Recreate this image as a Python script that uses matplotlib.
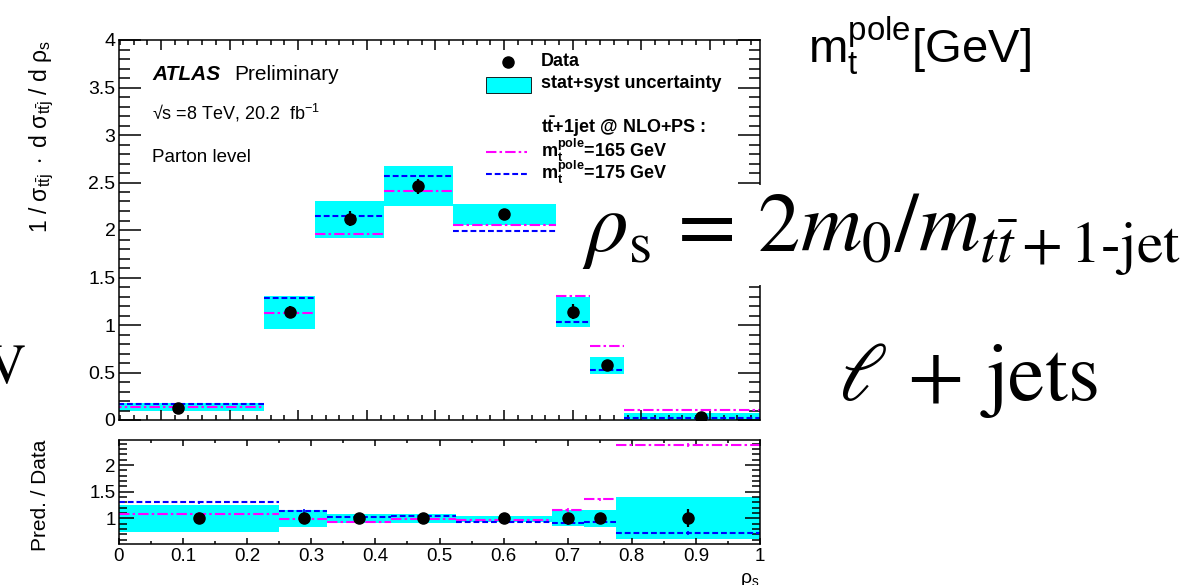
import matplotlib
matplotlib.use("Agg")
import matplotlib.pyplot as plt
import numpy as np
from matplotlib.patches import Rectangle
from matplotlib.ticker import MultipleLocator, FormatStrFormatter

plt.rcParams["font.family"] = ["Liberation Sans", "DejaVu Sans"]
plt.rcParams["mathtext.fontset"] = "custom"
plt.rcParams["mathtext.rm"] = "Liberation Sans"
plt.rcParams["mathtext.it"] = "Liberation Sans:italic"
plt.rcParams["mathtext.bf"] = "Liberation Sans:bold"

CYAN = "#00FFFF"
MAGENTA = "#FF00FF"
BLUE = "#0000FF"

# binning in rho_s
bin_edges = [0.0, 0.25, 0.325, 0.425, 0.525, 0.675, 0.725, 0.775, 1.0]
data_x = [0.125, 0.288, 0.375, 0.475, 0.600, 0.700, 0.750, 0.887]

# normalised cross section
data_y = [0.13, 1.14, 2.12, 2.46, 2.165, 1.14, 0.58, 0.035]
data_err = [0.02, 0.06, 0.08, 0.08, 0.06, 0.08, 0.03, 0.01]
unc_lo = [0.09, 0.955, 1.92, 2.25, 2.05, 0.975, 0.48, 0.0]
unc_hi = [0.18, 1.31, 2.31, 2.67, 2.27, 1.30, 0.667, 0.07]
pred_165 = [0.14, 1.13, 1.96, 2.41, 2.05, 1.31, 0.78, 0.105]
pred_175 = [0.17, 1.28, 2.15, 2.57, 1.99, 1.035, 0.526, 0.025]

# pred / data
ratio_data = [1, 1, 1, 1, 1, 1, 1, 1]
ratio_data_err = [0.01, 0.02, 0.02, 0.02, 0.02, 0.03, 0.03, 0.17]
ratio_unc_lo = [0.74, 0.83, 0.905, 0.92, 0.925, 0.855, 0.83, 0.61]
ratio_unc_hi = [1.25, 1.156, 1.09, 1.08, 1.05, 1.156, 1.156, 1.40]
ratio_165 = [1.09, 0.99, 0.935, 0.98, 0.97, 1.156, 1.36, 2.37]
ratio_175 = [1.30, 1.14, 1.03, 1.05, 0.925, 0.905, 0.925, 0.73]
ratio_pred_err = [0.03, 0.03, 0.02, 0.02, 0.02, 0.03, 0.03, 0.04]

W, H = 1192, 585
DASHDOT = (0, (5, 1.5, 1.2, 1.5))
DASHED = (0, (2.8, 1.4))


def px(x, y):
    return x / W, 1 - y / H


def style_axis(ax, ymaj, ymin, xmaj, xmin, ylen, xlen):
    for sp in ax.spines.values():
        sp.set_linewidth(1.1)
    ax.xaxis.set_major_locator(MultipleLocator(xmaj))
    ax.xaxis.set_minor_locator(MultipleLocator(xmin))
    ax.yaxis.set_major_locator(MultipleLocator(ymaj))
    ax.yaxis.set_minor_locator(MultipleLocator(ymin))
    ax.tick_params(which="both", direction="in", top=True, right=True, width=1.1)
    ax.tick_params(axis="y", which="major", length=ylen[0], pad=2.5)
    ax.tick_params(axis="y", which="minor", length=ylen[1])
    ax.tick_params(axis="x", which="major", length=xlen[0], pad=3)
    ax.tick_params(axis="x", which="minor", length=xlen[1])


lefts = np.array(bin_edges[:-1])
rights = np.array(bin_edges[1:])
widths = rights - lefts

fig = plt.figure(figsize=(W / 100, H / 100), dpi=100)
ax = fig.add_axes([119 / W, 1 - 420 / H, 641 / W, 380 / H])
ax2 = fig.add_axes([119 / W, 1 - 544 / H, 641 / W, 104 / H])

# main panel
ax.bar(lefts, np.array(unc_hi) - np.array(unc_lo), bottom=unc_lo, width=widths,
       align="edge", color=CYAN, linewidth=0, zorder=1)
ax.hlines(pred_165, lefts, rights, colors=MAGENTA, linestyles=DASHDOT, linewidth=1.5, zorder=2)
ax.hlines(pred_175, lefts, rights, colors=BLUE, linestyles=DASHED, linewidth=1.5, zorder=2)
ax.errorbar(data_x, data_y, yerr=data_err, fmt="o", color="black", markersize=8,
            elinewidth=1.6, capsize=0, zorder=3)
ax.set_xlim(0.0388, 0.973)
ax.set_ylim(0, 4)
style_axis(ax, 0.5, 0.1, 0.1, 0.02, (15.8, 8), (7, 3.6))
ax.tick_params(axis="x", labelbottom=False)
ax.yaxis.set_major_formatter(FormatStrFormatter("%g"))
for lab in ax.get_yticklabels():
    lab.set_fontsize(14)

# ratio panel
ax2.bar(lefts, np.array(ratio_unc_hi) - np.array(ratio_unc_lo), bottom=ratio_unc_lo, width=widths,
        align="edge", color=CYAN, linewidth=0, zorder=1)
ax2.hlines(ratio_165, lefts, rights, colors=MAGENTA, linestyles=DASHDOT, linewidth=1.5, zorder=2)
ax2.hlines(ratio_175, lefts, rights, colors=BLUE, linestyles=DASHED, linewidth=1.5, zorder=2)
ax2.errorbar(data_x, ratio_165, yerr=ratio_pred_err, fmt="none", ecolor=MAGENTA, elinewidth=1.2, zorder=2)
ax2.errorbar(data_x, ratio_175, yerr=ratio_pred_err, fmt="none", ecolor=BLUE, elinewidth=1.2, zorder=2)
ax2.errorbar(data_x, ratio_data, yerr=ratio_data_err, fmt="o", color="black", markersize=8,
             elinewidth=1.6, capsize=0, zorder=3)
ax2.set_xlim(0, 1)
ax2.set_ylim(0.52, 2.47)
style_axis(ax2, 0.5, 0.1, 0.1, 0.05, (11, 6), (4, 2.5))
ax2.set_yticks([1, 1.5, 2])
ax2.xaxis.set_major_formatter(FormatStrFormatter("%g"))
ax2.yaxis.set_major_formatter(FormatStrFormatter("%g"))
ax2.tick_params(labelsize=13.5)

# axis titles
fig.text(*px(42, 40), r"$\mathrm{1\ /\ \sigma_{t\bar{t}j}\ \cdot\ d\ \sigma_{t\bar{t}j}\ /\ d\ \rho_{s}}$",
         rotation=90, ha="center", va="top", fontsize=16.5)
fig.text(*px(40, 440), "Pred. / Data", rotation=90, ha="center", va="top", fontsize=15)
fig.text(*px(760, 571), r"$\mathrm{\rho_{s}}$", ha="right", va="top", fontsize=14)

# labels inside main panel
fig.text(*px(152, 75), "ATLAS", fontweight="bold", style="italic", fontsize=15, va="center")
fig.text(*px(234, 75), "Preliminary", fontsize=15, va="center")
fig.text(*px(152, 113), "\u221as =8 TeV, 20.2  fb$^{-1}$", fontsize=13, va="center")
fig.text(*px(152, 158), "Parton level", fontsize=13.5, va="center")

# legend
ax.plot([0.607], [0.942], "o", color="black", markersize=8, transform=ax.transAxes, clip_on=False)
ax.add_patch(Rectangle((0.5725, 0.861), 0.0702, 0.042, transform=ax.transAxes,
                       facecolor=CYAN, edgecolor="black", linewidth=0.6))
ax.plot([0.5725, 0.637], [0.705, 0.705], color=MAGENTA, linestyle=DASHDOT, linewidth=1.5,
        transform=ax.transAxes)
ax.plot([0.5725, 0.637], [0.647, 0.647], color=BLUE, linestyle=DASHED, linewidth=1.5,
        transform=ax.transAxes)
fig.text(*px(541, 62), "Data", fontweight="bold", fontsize=13, va="center")
fig.text(*px(541, 84), "stat+syst uncertainty", fontweight="bold", fontsize=13, va="center")
fig.text(*px(541, 127), r"$\mathbf{t\bar{t}}$+1jet @ NLO+PS :", fontweight="bold", fontsize=13, va="center")
fig.text(*px(541, 150), r"$\mathbf{m_{t}^{pole}}$=165 GeV", fontweight="bold", fontsize=13, va="center")
fig.text(*px(541, 172), r"$\mathbf{m_{t}^{pole}}$=175 GeV", fontweight="bold", fontsize=13, va="center")

# overlaid annotations
fig.add_artist(Rectangle(px(578, 285), (W - 578) / W, 100 / H, transform=fig.transFigure,
                         facecolor="white", edgecolor="none", zorder=5))
fig.text(*px(808, 62), r"$\mathrm{m_{t}^{pole}}$[GeV]", fontsize=34, va="baseline", zorder=6)
fig.text(*px(582, 252), r"$\rho_\mathrm{s}\,=\,2m_0/m_{t\bar{t}+1\text{-jet}}$", fontsize=61,
         va="baseline", math_fontfamily="stix", zorder=6)
fig.text(*px(838, 400), r"$\ell\,+\,\mathrm{jets}$", fontsize=59, va="baseline",
         math_fontfamily="stix", zorder=6)
fig.text(*px(25, 383), "V", fontsize=40, ha="right", va="baseline", family="STIXGeneral", zorder=6)

fig.savefig("out.png", dpi=100)
